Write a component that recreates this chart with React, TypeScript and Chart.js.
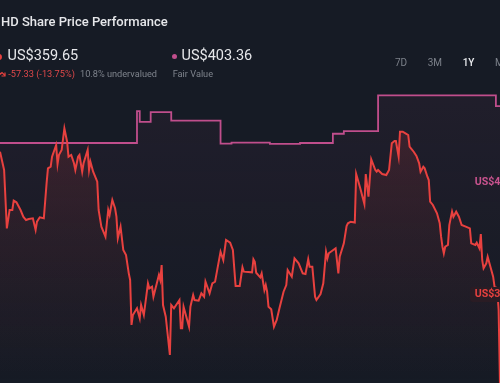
import React, { useEffect, useRef } from "react";
import { Chart, registerables } from "chart.js";

Chart.register(...registerables);

// ---- Data (calendar day index within the 1Y window, US$) ----
const priceDays = [
  0, 3, 5, 7, 9, 10, 12, 15, 17, 19, 21, 24, 26, 27, 29, 32, 34, 35, 37, 38,
  41, 42, 43, 45, 47, 49, 50, 52, 54, 55, 57, 58, 60, 61, 64, 65, 66, 68, 71, 72,
  74, 77, 79, 80, 82, 84, 85, 86, 88, 90, 92, 94, 95, 96, 97, 100, 102, 103, 105, 108,
  109, 111, 112, 116, 117, 118, 119, 121, 124, 125, 127, 131, 132, 133, 134, 138, 139, 141, 142, 145,
  147, 149, 150, 153, 155, 157, 161, 163, 165, 168, 170, 172, 175, 177, 178, 184, 185, 186, 187, 190,
  191, 193, 194, 195, 196, 198, 200, 202, 204, 207, 209, 210, 213, 215, 218, 221, 223, 225, 226, 228,
  230, 231, 234, 236, 238, 239, 240, 245, 247, 248, 251, 253, 254, 256, 259, 260, 263, 266, 267, 269,
  271, 274, 275, 276, 279, 282, 284, 286, 288, 289, 291, 292, 294, 296, 298, 299, 300, 302, 304, 306,
  307, 309, 310, 312, 313, 314, 316, 319, 321, 322, 323, 324, 325, 327, 328, 330, 331, 333, 335, 337,
  340, 343, 344, 347, 348, 350, 351, 352, 353, 355, 356, 358, 360, 361, 363, 364, 365,
];
const priceValues = [
  396.23, 393.37, 384.23, 387.1, 387.1, 388.56, 388.31, 387.1, 386.05, 385.53, 385.69, 385.8, 383.97, 385.27, 385.96, 385.8, 391.28, 393.63, 393.89, 395.45,
  397.28, 394.31, 395.72, 396.5, 399.9, 397.8, 395.45, 395.72, 394.42, 393.37, 395.45, 395.72, 393.1, 394.42, 396.5, 393.37, 394.67, 393.1, 391.54, 387.1,
  384.49, 382.92, 387.1, 386.32, 388.67, 387.37, 386.05, 382.67, 384.49, 380.84, 380.05, 377.18, 376.14, 369.09, 370.65, 371.7, 370.14, 372.22, 370.65, 375.62,
  374.83, 375.09, 373.52, 376.92, 376.14, 378.49, 372.22, 370.39, 364.39, 372.22, 371.7, 373.0, 368.57, 368.57, 371.95, 368.82, 371.95, 373.79, 373.0, 372.89,
  374.05, 373.52, 375.87, 374.05, 375.62, 375.87, 380.57, 379.27, 382.4, 381.98, 380.84, 375.2, 375.2, 378.13, 377.44, 377.34, 379.38, 379.0, 377.28, 376.56,
  377.18, 374.57, 375.35, 374.3, 371.95, 371.55, 368.82, 369.87, 371.7, 374.3, 375.35, 377.7, 376.65, 379.53, 378.75, 377.18, 377.08, 379.38, 378.22, 378.22,
  373.52, 373.0, 373.94, 375.62, 380.57, 379.53, 380.32, 381.1, 377.18, 379.79, 381.88, 384.59, 385.02, 385.27, 385.14, 392.74, 390.5, 388.04, 392.74, 389.19,
  395.04, 393.37, 393.1, 393.37, 392.74, 392.58, 393.37, 397.55, 397.91, 397.91, 395.45, 399.37, 399.37, 399.12, 398.85, 397.02, 396.77, 396.23, 395.56, 394.42,
  393.1, 393.89, 393.63, 392.32, 391.8, 388.4, 387.89, 386.58, 385.02, 382.92, 381.35, 380.32, 381.35, 381.62, 384.75, 386.84, 386.05, 386.84, 386.05, 384.75,
  384.49, 384.23, 381.88, 381.62, 381.98, 381.1, 383.34, 379.27, 377.97, 378.75, 379.79, 378.22, 376.65, 375.09, 374.83, 371.44, 359.65,
];

// Fair value: each point is the day the estimate changed and its new value
const fairDays = [0, 100, 102, 110, 125, 161, 169, 197, 219, 243, 251, 276, 362, 365];
const fairValues = [397.6, 402.6, 400.9, 402.45, 401.1, 397.5, 397.65, 397.45, 397.6, 399.05, 399.45, 405.05, 403.36, 403.36];

const title = "HD Share Price Performance";
const currentPrice = "US$359.65";
const priceChange = "-57.33 (-13.75%)";
const valuationNote = "10.8% undervalued";
const fairValueLabel = "US$403.36";
const fairValueCaption = "Fair Value";
const rangeButtons = ["7D", "3M", "1Y", "Max"];
const activeRange = "1Y";

const BG = "#161b25";
const RED = "#e8413f";
const PINK = "#c04e8c";
const FONT = "Roboto, 'Noto Sans', sans-serif";

function vGrad(chart: any, stops: [number, string][]) {
  const { ctx, chartArea } = chart;
  if (!chartArea) return "transparent";
  const g = ctx.createLinearGradient(0, chartArea.top, 0, chartArea.bottom);
  stops.forEach(([o, c]) => g.addColorStop(o, c));
  return g;
}

function Txt(props: {
  x: number; base: number; size: number; color: string; weight?: number; children: React.ReactNode;
}) {
  const { x, base, size, color, weight = 400, children } = props;
  return (
    <div
      style={{
        position: "absolute",
        left: x,
        top: base - 0.8415 * size,
        fontSize: size,
        lineHeight: `${size}px`,
        color,
        fontWeight: weight,
        whiteSpace: "nowrap",
        fontFamily: FONT,
      }}
    >
      {children}
    </div>
  );
}

export default function App() {
  const canvasRef = useRef<HTMLCanvasElement | null>(null);

  useEffect(() => {
    document.body.style.margin = "0";
    document.body.style.background = BG;
    const canvas = canvasRef.current;
    if (!canvas) return;
    const chart = new Chart(canvas, {
      type: "line",
      data: {
        datasets: [
          {
            label: "Share Price",
            data: priceDays.map((d, i) => ({ x: d, y: priceValues[i] })),
            borderColor: RED,
            borderWidth: 2,
            pointRadius: 0,
            tension: 0,
            fill: "start",
            backgroundColor: (c: any) =>
              vGrad(c.chart, [
                [0.25, "rgba(225,62,62,0.17)"],
                [0.6, "rgba(225,62,62,0.08)"],
                [1, "rgba(225,62,62,0)"],
              ]),
          },
          {
            label: "Fair Value",
            data: fairDays.map((d, i) => ({ x: d, y: fairValues[i] })),
            borderColor: PINK,
            borderWidth: 1.8,
            pointRadius: 0,
            stepped: true,
            fill: "start",
            backgroundColor: (c: any) =>
              vGrad(c.chart, [
                [0.2, "rgba(192,78,140,0.07)"],
                [0.7, "rgba(192,78,140,0.02)"],
                [1, "rgba(192,78,140,0)"],
              ]),
          },
        ],
      },
      options: {
        animation: false,
        responsive: false,
        layout: { padding: 0 },
        plugins: { legend: { display: false }, tooltip: { enabled: false } },
        scales: {
          x: { type: "linear", min: 0, max: 365, display: false },
          y: { min: 360, max: 420, display: false },
        },
      },
    });
    return () => chart.destroy();
  }, []);

  return (
    <div
      style={{
        position: "fixed",
        left: 0,
        top: 0,
        width: 500,
        height: 383,
        background: BG,
        overflow: "hidden",
        fontFamily: FONT,
      }}
    >
      <canvas ref={canvasRef} width={500} height={383} style={{ position: "absolute", left: 0, top: 0 }} />

      <Txt x={1} base={26} size={13} color="#e6e7ea" weight={500}>{title}</Txt>

      <div style={{ position: "absolute", left: -4, top: 53.5, width: 6, height: 6, borderRadius: 3, background: RED }} />
      <Txt x={7.5} base={61.7} size={14.5} color="#e6e7ea">{currentPrice}</Txt>

      <svg style={{ position: "absolute", left: -3, top: 68 }} width={9} height={10} viewBox="0 0 9 10">
        <polyline points="0,2 3.5,6 5,4.5 8,7.5" fill="none" stroke={RED} strokeWidth={1.2} />
        <polyline points="4.5,8 8,8 8,4.5" fill="none" stroke={RED} strokeWidth={1.2} />
      </svg>
      <Txt x={8.3} base={76.6} size={9.2} color="#e0484a">{priceChange}</Txt>
      <Txt x={80} base={76.6} size={9.2} color="#7f848d">{valuationNote}</Txt>

      <div style={{ position: "absolute", left: 171.5, top: 53.5, width: 5, height: 5, borderRadius: 3, background: PINK }} />
      <Txt x={181.5} base={61.7} size={14.5} color="#e6e7ea">{fairValueLabel}</Txt>
      <Txt x={172.7} base={76.6} size={9.2} color="#7f848d">{fairValueCaption}</Txt>

      {rangeButtons.map((r, i) => (
        <Txt
          key={r}
          x={[395, 427.7, 462.7, 495][i]}
          base={66.3}
          size={10}
          color={r === activeRange ? "#eceef1" : "#7c818a"}
          weight={r === activeRange ? 500 : 400}
        >
          {r}
        </Txt>
      ))}

      <div
        style={{
          position: "absolute",
          left: 470.7,
          top: 175.7,
          height: 14.3,
          width: 60,
          borderRadius: 3,
          background: "#201d2a",
        }}
      />
      <Txt x={474.7} base={186.3} size={10.6} color="#c9538f" weight={700}>{fairValueLabel}</Txt>

      <div
        style={{
          position: "absolute",
          left: 470.3,
          top: 286.7,
          height: 15,
          width: 60,
          borderRadius: 3,
          background: "#2a1c24",
        }}
      />
      <Txt x={474.7} base={297.7} size={10.6} color={RED} weight={700}>{currentPrice}</Txt>
    </div>
  );
}
